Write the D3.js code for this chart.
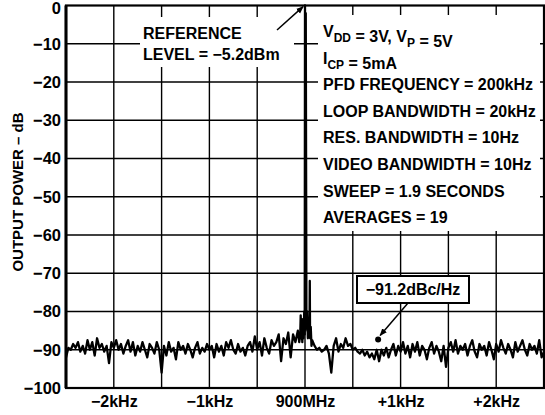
<!DOCTYPE html>
<html><head><meta charset="utf-8">
<script src="https://cdn.jsdelivr.net/npm/d3@7"></script>
<style>
html,body{margin:0;padding:0;background:#fff;}
text{font-family:"Liberation Sans",Arial,Helvetica,sans-serif;font-weight:bold;fill:#000;}
</style></head>
<body><svg id="c" width="545" height="415"></svg>
<script>
// ---- data ----
const yTicks = [0,-10,-20,-30,-40,-50,-60,-70,-80,-90,-100];
const xTickVals = [-2000,-1000,0,1000,2000];
const xTickLabels = ["\u22122kHz","\u22121kHz","900MHz","+1kHz","+2kHz"];
const stepHz = 25;
const leftStartHz = -2500;
const noiseLeft = [
 -92,-89.5,-90,-88.5,-89.5,-88,-90.5,-89,-91,-87.5,
 -90,-88,-91.5,-87,-89.5,-88.5,-90.5,-89,-93.5,-88,
 -89.5,-87.5,-90,-88.5,-91,-89,-87.5,-90.5,-88,-91.5,
 -89,-90.5,-88,-90,-92,-88.5,-89.5,-91,-88,-90,
 -96,-89,-91.5,-88,-90.5,-89.5,-92.5,-88,-90,-89,
 -91,-88.5,-90,-92,-89.5,-88,-91,-89.5,-90.5,-88.5,
 -90,-89,-92,-88.5,-90.5,-89,-91.5,-88,-89.5,-87.5,
 -90,-91,-88.5,-90.5,-89.5,-91.5,-89,-88,-90.5,-86.5,
 -90,-88,-91.5,-87,-89.5,-91,-87.5,-89,-88,-86,
 -93,-87,-88.5,-85.5,-92,-86,-88,-85
];
const carrierHz = [-60,-50,-45,-40,-35,-28,-22,-15,-8,-3,0,3,8,15,22,30,40,47,50,53,60,68];
const carrierDb = [-88,-86,-81,-87,-84,-88,-82,-87,-80,-86,0,-85,-2,-84,-80,-87,-83,-86,-72,-87,-84,-89];
const rightStartHz = 75;
const noiseRight = [
 -87.5,-89,-90,-89.5,-90.5,-90,-89,-91,-96,-89,
 -87,-90.5,-88.5,-89.5,-87,-89,-88.5,-90,-89.5,-90.5,
 -91,-90,-91.5,-90.5,-92,-91,-92.5,-90,-93,-90,
 -91.5,-89.5,-92,-90,-88.5,-91.5,-89,-90.5,-88,-91,
 -89,-92,-88.5,-90.5,-88,-91.5,-89,-90,-92.5,-89.5,
 -88,-91,-89,-90.5,-93,-89,-94.5,-89.5,-88,-90.5,
 -87.5,-91,-89,-90,-88.5,-91.5,-89,-87.5,-90.5,-92,
 -88.5,-90,-89,-91.5,-88,-90,-92.5,-88.5,-90.5,-87.5,
 -89.5,-91,-88.5,-90,-92,-88,-90.5,-89,-87.5,-90,
 -91.5,-88.5,-90,-89,-91,-87.5,-92,-90.5
];
const infoLines = [
 [["V",0],["DD",1],[" = 3V, V",0],["P",1],[" = 5V",0]],
 [["I",0],["CP",1],[" = 5mA",0]],
 [["PFD FREQUENCY = 200kHz",0]],
 [["LOOP BANDWIDTH = 20kHz",0]],
 [["RES. BANDWIDTH = 10Hz",0]],
 [["VIDEO BANDWIDTH = 10Hz",0]],
 [["SWEEP = 1.9 SECONDS",0]],
 [["AVERAGES = 19",0]]
];
const refText = ["REFERENCE","LEVEL = \u22125.2dBm"];
const noteText = "\u221291.2dBc/Hz";
const noteHz = 765, noteDb = -87.3;
const yLabel = "OUTPUT POWER \u2013 dB";

// ---- build series ----
const pts = [];
noiseLeft.forEach((v,i)=>pts.push([leftStartHz+i*stepHz, v]));
carrierHz.forEach((f,i)=>pts.push([f, carrierDb[i]]));
noiseRight.forEach((v,i)=>pts.push([rightStartHz+i*stepHz, v]));

// ---- layout ----
const L=66, R=544, T=5.5, B=388;
const svg = d3.select("#c");
const x = d3.scaleLinear().domain([-2500,2500]).range([L,R]);
const y = d3.scaleLinear().domain([0,-100]).range([T,B]);

// grid
const g = svg.append("g");
g.selectAll(".vg").data(d3.range(-2000,2500,500)).join("line")
 .attr("x1",d=>x(d)).attr("x2",d=>x(d)).attr("y1",T).attr("y2",B)
 .attr("stroke","#000").attr("stroke-width",1.4);
g.selectAll(".hg").data(yTicks.slice(1,-1)).join("line")
 .attr("x1",L).attr("x2",R).attr("y1",d=>y(d)).attr("y2",d=>y(d))
 .attr("stroke","#000").attr("stroke-width",1.4);

// white boxes
svg.append("rect").attr("x",140).attr("y",17).attr("width",154).attr("height",50).attr("fill","#fff");
svg.append("rect").attr("x",318).attr("y",15).attr("width",222).attr("height",216).attr("fill","#fff");

// trace
svg.append("path").datum(pts)
 .attr("d",d3.line().x(d=>x(d[0])).y(d=>y(d[1])))
 .attr("fill","none").attr("stroke","#000").attr("stroke-width",2.3).attr("stroke-linejoin","round");

// frame
svg.append("rect").attr("x",L).attr("y",T).attr("width",R-L).attr("height",B-T)
 .attr("fill","none").attr("stroke","#000").attr("stroke-width",2.2);
svg.append("line").attr("x1",L).attr("x2",L).attr("y1",T).attr("y2",B).attr("stroke","#000").attr("stroke-width",3);

// axes labels
const yAxis = d3.axisLeft(y).tickValues(yTicks).tickSize(0).tickPadding(5)
  .tickFormat(d=>d===0?"0":"\u2212"+Math.abs(d));
const ya = svg.append("g").attr("transform",`translate(${L},0)`).call(yAxis);
ya.select(".domain").remove();
ya.selectAll("text").style("font-size","16.5px");
ya.selectAll("text").filter(d=>d===0).attr("dy","0.5em");
const xAxis = d3.axisBottom(x).tickValues(xTickVals).tickSize(0).tickPadding(8)
  .tickFormat((d,i)=>xTickLabels[i]);
const xa = svg.append("g").attr("transform",`translate(0,${B})`).call(xAxis);
xa.select(".domain").remove();
xa.selectAll("text").style("font-size","16px");
svg.selectAll(".tick text").attr("fill",null);
svg.selectAll("g").attr("font-family",null).attr("font-size",null);

svg.append("text").attr("transform","translate(23,192) rotate(-90)")
 .attr("text-anchor","middle").style("font-size","15px").text(yLabel);

// info text
infoLines.forEach((ln,i)=>{
  const t = svg.append("text").attr("x",323).attr("y",37+i*26.6).style("font-size","16px");
  ln.forEach(([s,sub])=>{
    t.append("tspan").text(s).style("font-size",sub?"12px":"16px")
     .attr("dy",sub?5:0);
    if(sub) t.append("tspan").text("").attr("dy",-5);
  });
});

// reference text
refText.forEach((s,i)=>svg.append("text").attr("x",143).attr("y",39+i*21).style("font-size","16px").text(s));

// arrows
const defs = svg.append("defs");
defs.append("marker").attr("id","ah").attr("viewBox","0 0 10 10").attr("refX",9).attr("refY",5)
 .attr("markerWidth",5).attr("markerHeight",5).attr("orient","auto")
 .append("path").attr("d","M0,1 L10,5 L0,9 z").attr("fill","#000");
svg.append("line").attr("x1",277).attr("y1",30).attr("x2",x(-20)).attr("y2",y(-0.3))
 .attr("stroke","#000").attr("stroke-width",1.5).attr("marker-end","url(#ah)");

// note box
const nb = svg.append("g");
nb.append("rect").attr("x",357).attr("y",276).attr("width",112).attr("height",27)
 .attr("fill","#fff").attr("stroke","#000").attr("stroke-width",2);
nb.append("text").attr("x",413).attr("y",295).attr("text-anchor","middle").style("font-size","16px").text(noteText);
svg.append("line").attr("x1",408).attr("y1",303).attr("x2",x(noteHz)+2).attr("y2",y(noteDb)-4)
 .attr("stroke","#000").attr("stroke-width",1.5).attr("marker-end","url(#ah)");
svg.append("circle").attr("cx",x(noteHz)).attr("cy",y(noteDb)).attr("r",3).attr("fill","#000");
</script></body></html>
